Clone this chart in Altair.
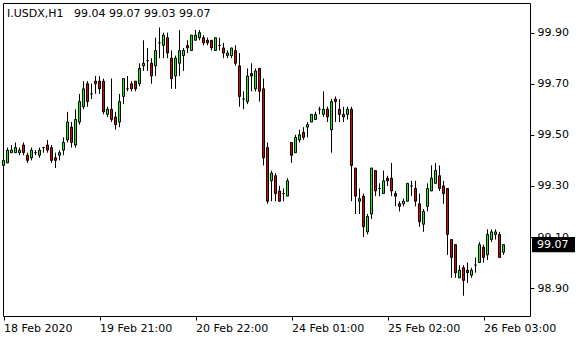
import altair as alt
import pandas as pd

opens = [99.38,99.39,99.43,99.43,99.43,99.46,99.42,99.41,99.43,99.42,99.45,99.46,99.45,99.41,99.42,99.44,99.48,99.53,99.46,99.55,
         99.61,99.70,99.66,99.71,99.71,99.71,99.58,99.60,99.57,99.55,99.65,99.68,99.70,99.71,99.70,99.77,99.79,99.78,99.77,99.86,
         99.85,99.88,99.80,99.73,99.78,99.81,99.85,99.83,99.87,99.88,99.88,99.87,99.87,99.83,99.85,99.84,99.81,99.81,99.83,99.77,
         99.64,99.63,99.74,99.68,99.76,99.68,99.45,99.32,99.34,99.28,99.27,99.26,99.47,99.43,99.48,99.51,99.53,99.55,99.56,99.60,
         99.58,99.60,99.52,99.64,99.60,99.58,99.58,99.60,99.37,99.24,99.26,99.12,99.19,99.36,99.29,99.27,99.33,99.33,99.27,99.23,
         99.23,99.24,99.30,99.29,99.23,99.15,99.22,99.28,99.31,99.34,99.30,99.29,99.09,99.07,98.94,98.98,98.97,98.95,98.99,99.00,
         99.06,99.03,99.09,99.11,99.11,99.04]
closes = [99.40,99.44,99.44,99.45,99.44,99.43,99.40,99.44,99.43,99.44,99.45,99.44,99.40,99.40,99.43,99.47,99.55,99.47,99.56,99.63,
          99.68,99.63,99.66,99.70,99.68,99.59,99.60,99.56,99.54,99.63,99.72,99.68,99.68,99.68,99.76,99.78,99.79,99.73,99.83,99.86,
          99.89,99.82,99.72,99.80,99.83,99.83,99.84,99.89,99.89,99.90,99.86,99.86,99.84,99.88,99.85,99.82,99.82,99.84,99.78,99.65,
          99.64,99.73,99.73,99.75,99.67,99.41,99.24,99.35,99.27,99.24,99.27,99.32,99.42,99.49,99.50,99.49,99.54,99.58,99.58,99.60,
          99.60,99.57,99.63,99.63,99.58,99.57,99.60,99.38,99.26,99.25,99.14,99.18,99.37,99.28,99.29,99.32,99.32,99.28,99.26,99.22,
          99.24,99.31,99.30,99.24,99.16,99.20,99.29,99.33,99.36,99.29,99.27,99.11,99.02,98.96,98.97,98.93,98.96,98.97,98.99,99.07,
          99.02,99.11,99.12,99.12,99.02,99.07]
highs = [99.40,99.45,99.46,99.47,99.45,99.47,99.43,99.45,99.44,99.45,99.45,99.48,99.46,99.43,99.44,99.49,99.59,99.55,99.60,99.66,
         99.71,99.71,99.70,99.73,99.73,99.72,99.61,99.72,99.59,99.66,99.72,99.73,99.71,99.71,99.78,99.87,99.84,99.80,99.88,99.92,
         99.90,99.90,99.83,99.81,99.91,99.84,99.87,99.89,99.91,99.91,99.89,99.88,99.87,99.88,99.88,99.86,99.83,99.84,99.85,99.82,
         99.67,99.76,99.78,99.76,99.76,99.72,99.47,99.36,99.35,99.30,99.29,99.33,99.47,99.50,99.52,99.53,99.55,99.58,99.59,99.61,
         99.67,99.61,99.64,99.65,99.64,99.61,99.61,99.61,99.37,99.29,99.27,99.19,99.37,99.36,99.31,99.36,99.34,99.39,99.28,99.24,
         99.25,99.31,99.32,99.32,99.27,99.21,99.31,99.38,99.39,99.38,99.32,99.29,99.09,99.07,98.99,98.99,99.00,98.98,99.02,99.08,
         99.07,99.13,99.13,99.13,99.12,99.07]
lows = [99.37,99.39,99.43,99.43,99.42,99.42,99.39,99.40,99.42,99.41,99.43,99.43,99.39,99.37,99.40,99.42,99.47,99.45,99.45,99.54,
        99.60,99.61,99.64,99.66,99.66,99.58,99.57,99.55,99.52,99.53,99.62,99.67,99.67,99.67,99.69,99.75,99.75,99.70,99.73,99.80,
        99.80,99.80,99.68,99.68,99.73,99.75,99.82,99.83,99.87,99.87,99.85,99.85,99.83,99.83,99.83,99.80,99.80,99.80,99.77,99.61,
        99.60,99.62,99.67,99.67,99.63,99.38,99.23,99.24,99.24,99.24,99.24,99.26,99.39,99.43,99.47,99.48,99.49,99.55,99.56,99.58,
        99.57,99.55,99.43,99.55,99.55,99.55,99.56,99.24,99.19,99.19,99.10,99.11,99.17,99.26,99.26,99.27,99.30,99.26,99.22,99.20,
        99.22,99.24,99.26,99.22,99.14,99.12,99.20,99.28,99.31,99.28,99.23,99.03,98.94,98.94,98.94,98.87,98.92,98.94,98.96,99.00,
        99.00,99.01,99.08,99.09,99.02,99.03]

tick_index = [0, 24, 48, 72, 96, 120]
tick_text = ["18 Feb 2020", "19 Feb 21:00", "20 Feb 22:00", "24 Feb 01:00", "25 Feb 02:00", "26 Feb 03:00"]
price_ticks = [98.90, 99.10, 99.30, 99.50, 99.70, 99.90]
symbol = "I.USDX,H1"

n = len(opens)
df = pd.DataFrame({"i": list(range(n)), "open": opens, "high": highs, "low": lows, "close": closes})
df["dir"] = ["up" if c >= o else "down" for o, c in zip(opens, closes)]

header = f"{symbol} \u00a0\u00a0{opens[-1]:.2f} {highs[-1]:.2f} {lows[-1]:.2f} {closes[-1]:.2f}"

label_expr = " : ".join(
    f"datum.value == {k} ? '{t}'" for k, t in zip(tick_index, tick_text)
) + " : ''"

xscale = alt.Scale(domain=[-0.125, 131.625], nice=False, zero=False, padding=0)
yscale = alt.Scale(domain=[98.7908, 100.0159], nice=False, zero=False, padding=0)

FONT = "DejaVu Sans"

xaxis = alt.Axis(values=tick_index, labelExpr=label_expr, labelAlign="left", labelFlush=False,
                 labelOverlap=False, tickSize=4, tickColor="black", labelPadding=2, domain=False,
                 grid=False, title=None, labelFont=FONT, labelFontSize=11, labelColor="black")
yaxis = alt.Axis(values=price_ticks, format=".2f", orient="right", tickSize=4, tickColor="black",
                 labelPadding=3, domain=False, grid=False, title=None, labelFont=FONT,
                 labelFontSize=11, labelColor="black", labelOverlap=False)

base = alt.Chart(df)

wicks = base.mark_rule(color="black", strokeWidth=1).encode(
    x=alt.X("i:Q", scale=xscale, axis=xaxis),
    y=alt.Y("low:Q", scale=yscale, axis=yaxis),
    y2="high:Q",
)

bodies = base.mark_bar(size=2, stroke="black", strokeWidth=1).encode(
    x=alt.X("i:Q", scale=xscale),
    y=alt.Y("open:Q", scale=yscale),
    y2="close:Q",
    color=alt.Color("dir:N", scale=alt.Scale(domain=["up", "down"], range=["#00FF00", "#DD0000"]), legend=None),
)

title_text = alt.Chart(pd.DataFrame({"t": [header]})).mark_text(
    align="left", baseline="alphabetic", font=FONT, fontSize=11, color="black"
).encode(x=alt.value(4), y=alt.value(14), text="t:N")

last_df = pd.DataFrame({"c": [closes[-1]]})
box = alt.Chart(last_df).transform_calculate(
    top="datum.c + 0.03", bot="datum.c - 0.03"
).mark_rect(color="black").encode(
    x=alt.value(529), x2=alt.value(572),
    y=alt.Y("top:Q", scale=yscale), y2="bot:Q",
)
box_text = alt.Chart(last_df).mark_text(
    align="left", baseline="middle", font=FONT, fontSize=11, color="white"
).encode(x=alt.value(534), y=alt.Y("c:Q", scale=yscale), text=alt.Text("c:Q", format=".2f"))

chart = alt.layer(wicks, bodies, title_text, box, box_text).properties(
    width=527, height=313,
    padding={"left": 3, "top": 3, "right": 50, "bottom": 24},
    autosize=alt.AutoSizeParams(type="none"),
    background="white",
).configure_view(stroke="black", strokeWidth=1)

chart.save("out.html", embed_options={"renderer": "svg", "actions": False})
